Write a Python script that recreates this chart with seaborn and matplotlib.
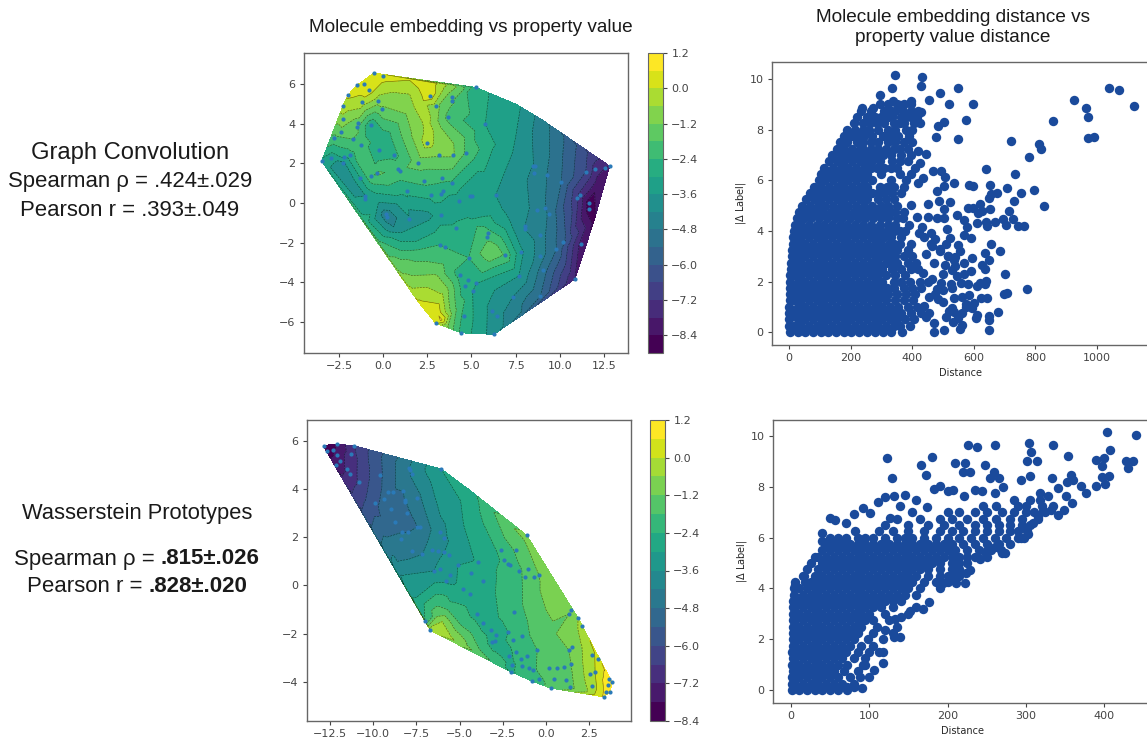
import numpy as np
import pandas as pd
import matplotlib
matplotlib.use('Agg')
import matplotlib.pyplot as plt
import seaborn as sns

# Contour panel, graph convolution: dots seen in the picture (x, y, colour read as value)
gc_dot_x = [-0.53, 0, -1.49, -1.06, -0.78, -2.0, -1.21, -0.28, -2.27, -0.04, -2.29, -1.4, -1.49, -0.68, -2.36, -1.72, -2.78, -1.27, -0.21, 0.62, -1.85, -2.19, -2.95, -3.48, -2.29, -0.32, -0.66, -1.3, 0.83, 0.93, 1.97, 3.18, 3.93, 4.69, 2.48, 3.69, 2.97, 2.65, 3.88, 3.88, 5.24, 5.78, 2.29, 3.31, 3.91, 1.36, 2.7, 3.25, 3.36, 4.27, 4.9, 5.01, 6.37, -1.0, -1.0, 0.17, 0.21, 1.47, 3.25, 4.14, 5.94, 5.88, 3.23, 3.48, 4.84, 6.9, 4.37, 4.78, 4.65, 5.27, 5.07, 4.56, 4.42, 2.97, 6.16, 6.46, 6.26, 7.33, 7.69, 7.83, 8.02, 8.02, 8.88, 8.87, 9.05, 8.9, 9.81, 10.19, 10.85, 11.19, 10.95, 11.17, 11.64, 11.66, 10.09, 9.26, 8.51, 8.62, 8.53, 8.7, 9.17, 9.4, 11.47, 11.98, 12.55, 12.82]
gc_dot_y = [6.57, 6.4, 5.94, 5.99, 5.69, 5.44, 5.12, 5.15, 4.92, 4.76, 4.26, 4.06, 3.84, 3.94, 3.59, 3.23, 3.27, 2.93, 2.69, 2.44, 2.42, 2.32, 2.26, 2.12, 2.02, 1.5, 1.35, 1.28, 1.73, 1.63, 2.04, 2.44, 2.44, 2.51, 3.03, 4.33, 4.88, 5.4, 5.35, 5.15, 5.84, 3.97, 1.13, 1.28, 1.01, 0.61, 0.42, 0.47, 0.59, 0.1, 0.35, 0.35, 0.42, 0.37, 0.22, -0.54, -0.71, -0.79, -0.62, -1.26, -1.5, -1.7, -2.1, -2.24, -2.76, -2.64, -3.65, -3.89, -4.19, -4.06, -4.46, -5.69, -6.55, -6.06, -5.45, -5.69, -6.63, -4.75, -3.67, -2.49, -1.18, -1.31, -1.63, -2.69, -3.37, -4.71, -2.34, -1.97, -3.84, -2.07, 0.27, 0.4, 0.02, -0.29, 1.08, 1.4, 1.89, 1.89, 1.52, -0.35, -0.24, -0.54, 1.58, 1.72, 1.78, 1.87]
gc_dot_z = [0.4, 0.3, 0.3, 0.4, 0.3, 0.1, -0.2, -0.9, -0.2, -1.3, -0.8, -1.5, -1.7, -2.9, -1.4, -1.8, -2.0, -2.0, -3.0, -2.6, -2.6, -2.9, -3.4, -3.2, -3.8, -1.7, -1.9, -3.0, -2.1, -2.0, -1.5, -1.1, -1.1, -1.9, -0.3, -2.0, -0.9, 0.4, -1.6, -1.7, -2.8, -3.0, -2.2, -2.2, -2.5, -2.8, -2.8, -2.8, -2.8, -3.3, -3.6, -3.6, -3.6, -3.6, -3.6, -4.5, -4.6, -3.7, -3.3, -2.9, -2.2, -2.0, -2.4, -2.4, -2.4, -1.9, -2.7, -2.9, -2.9, -3.0, -3.0, -2.6, -2.6, 0.2, -3.8, -4.0, -3.9, -4.2, -3.6, -3.5, -4.2, -4.2, -4.5, -4.5, -5.1, -5.4, -5.4, -5.8, -7.8, -8.0, -7.0, -7.4, -8.7, -8.7, -5.4, -4.8, -4.2, -4.2, -4.3, -4.3, -4.8, -4.9, -6.6, -7.4, -7.8, -7.8]
# Extra surface readings between the dots
gc_sur_x = [12.2, 11.9, 1.5, 2.5, 4.5, 7.5, 9, 10.5, 11.5, 6.5, 7.5, 5.5, 7, 7, 6, 5, 5.9, 6.3, 5.5, 0, 1, 2, -1.6, -1, -0.2, 1, 1.5, 2, 3, 3.3, 3.4, 3, 3.5, 2, 4, 3.7, 2.5, 2, 2.5, 3, 1.5, 3.2, 4, 1.3, 1.5, 0.5, 3.5, 3.2, -2.5, -1.8, -0.3, 1, 0, 1.5, 2.5, 0.6, 1]
gc_sur_y = [0.9, -1.0, 6.2, 6.1, 5.8, 5.0, 4.2, 3.2, 2.6, 3, 2.5, 2, 0, -1, -1, -1, -2.4, -2.5, -1.3, -0.6, -1.3, -2, 0.3, -1, -2, -3, -4, -5, -5.5, -5.9, -4.5, -3.5, -3, -2.5, -5.5, -6.2, 4, 5, 3.5, 3.5, 3.5, 3.0, 3, 4.5, 5.5, 5.6, 5.8, 5.0, 1.5, 1.0, 0.1, 0.2, 3.2, -0.8, -0.65, -1.2, -1.5]
gc_sur_z = [-8.2, -8.5, 0.0, 0.6, -1.6, -3.4, -4.5, -5.6, -6.5, -3.1, -3.7, -2.8, -3.9, -3.4, -2.8, -2.9, -1.4, -1.3, -2.1, -4.4, -3.8, -2.9, -3.6, -2.7, -2.3, -1.6, -0.9, 0.1, 0.5, 0.7, -0.7, -1.3, -1.9, -2.2, -1.6, -1.3, -0.4, -0.3, -0.4, -0.7, -1.3, -0.9, -1.2, -1.2, -0.6, -0.6, -0.7, -1.2, -4.0, -4.0, -3.5, -3.2, -2.9, -4.0, -3.8, -4.2, -3.6]

# Contour panel, Wasserstein prototypes
wp_dot_x = [-12.87, -12.7, -12.35, -12.11, -12.07, -11.92, -12.15, -11.53, -11.32, -11.28, -11.09, -10.82, -9.6, -9.87, -9.39, -9.15, -8.84, -8.94, -8.75, -8.26, -8.13, -8.17, -8.03, -8.35, -8.37, -7.96, -7.73, -7.15, -7.44, -7.29, -7.48, -7.92, -7.89, -7.75, -6.07, -6.57, -6.24, -5.9, -5.63, -6.11, -5.88, -6.5, -6.15, -5.78, -5.55, -5.1, -4.78, -4.37, -4.31, -3.91, -3.62, -3.99, -3.62, -3.18, -2.87, -3.1, -2.94, -2.62, -2.42, -2.17, -2.08, -1.73, -1.11, -1.57, -1.03, -1.2, -0.67, -0.4, -1.86, -2.19, -1.9, -1.4, -1.73, -0.51, -1.11, -2.13, -1.46, -1.96, -1.38, -2.02, -0.98, -0.72, -0.82, -0.38, 0.16, 0.67, 1.07, 0.49, 1.15, 0.3, 1.4, 1.46, 1.32, 1.53, 2.54, 2.67, 2.85, 2.67, 3.0, 1.35, 1.48, 1.86, 2.09, 3.35, 3.47, 3.72, 3.58, 3.66, 3.83, -7.0, -6.69]
wp_dot_y = [5.8, 5.56, 5.61, 5.86, 5.39, 5.16, 4.99, 4.81, 4.62, 5.43, 5.79, 4.31, 4.6, 3.43, 3.57, 3.88, 3.88, 3.18, 2.63, 3.9, 3.54, 3.47, 3.0, 2.2, 1.91, 2.2, 1.44, 1.29, 2.44, 2.44, 3.61, 4.89, 4.78, 4.62, 4.83, 1.47, 1.41, 1.37, 1.25, 2.22, 1.95, 0.6, 0.7, 0.2, 0.43, 0.83, -0.15, -0.34, 0.53, 0.97, 0.2, -1.18, -1.55, -1.86, -2.04, -2.33, -2.29, 1.48, 1.04, 0.87, 0.83, 1.48, 2.08, 0.6, 0.7, 0.36, 0.34, 0.43, -1.09, -1.93, -2.27, -2.09, -2.77, -2.67, -2.91, -2.91, -3.05, -3.29, -3.34, -3.58, -3.42, -3.52, -3.96, -3.87, -3.41, -3.41, -3.38, -3.89, -3.92, -4.26, -4.22, -3.24, -2.67, -2.56, -3.68, -4.18, -3.58, -2.87, -3.07, -1.18, -1.02, -1.35, -1.69, -4.62, -4.41, -4.41, -4.12, -3.89, -4.01, -1.46, -1.86]
wp_dot_z = [-7.9, -8.0, -7.9, -7.8, -7.5, -7.4, -7.6, -7.1, -7.0, -6.9, -6.6, -6.5, -5.5, -5.5, -5.3, -5.1, -4.9, -5.2, -5.2, -4.8, -4.8, -4.8, -4.9, -4.8, -4.6, -4.8, -4.5, -4.2, -4.8, -4.7, -4.4, -4.2, -4.2, -4.1, -3.0, -3.9, -3.7, -3.6, -3.5, -3.8, -3.7, -3.6, -3.5, -3.1, -3.1, -3.0, -2.9, -2.8, -3.0, -2.9, -2.6, -2.7, -2.7, -2.7, -2.7, -2.7, -2.7, -2.3, -2.3, -2.2, -2.2, -1.7, -1.0, -1.9, -1.6, -1.7, -1.4, -1.2, -2.1, -2.4, -2.2, -2.0, -2.2, -1.8, -2.0, -2.6, -2.2, -2.5, -2.2, -2.5, -2.0, -1.9, -2.0, -1.9, -1.4, -1.4, -1.4, -1.5, -1.4, -1.7, -1.4, -1.2, -1.2, -1.1, -0.3, -0.4, 0.0, -0.1, 0.1, -1.2, -1.1, -0.6, -0.4, 0.7, 0.8, 0.9, 1.0, 1.0, 1.1, -2.4, -0.3]
wp_sur_x = [-5.5, -6.3, -6, -5, -5.5, -4.9, -4, -3, -7.5, -8.3, -8.6, -9.2, -10, -4.5, -3.5, -2.2, -1.2, 0, 1, 0, 1.5, 2.2, 2.3, -5.7, -4.5]
wp_sur_y = [-0.8, -1.2, -1.5, -1.5, -2.2, -2.3, -2.6, -3, -0.5, 0.3, 1, 2, 3, 4, 3.2, 2.5, 1.0, 0, -0.7, -2, -2, -2.5, -4.4, -1.0, -2.2]
wp_sur_z = [-2.3, -1.4, -0.6, -1.9, -0.5, -0.9, -1.7, -2.2, -3.0, -3.5, -4.2, -4.8, -5.5, -2.7, -2.2, -1.3, -1.6, -1.0, -0.9, -1.4, -0.9, -0.5, -0.7, -1.8, -1.5]

# Distance scatter, graph convolution: separate points
gc_far_x = [1121, 1070, 1038, 924, 965, 971, 971, 989, 856, 812, 818, 720, 778, 734, 640, 795, 753, 829, 731, 707, 653, 675, 715, 694, 727, 762, 742, 703, 668, 640, 642, 653, 648, 655, 621, 626, 615, 610, 580, 597, 583, 596, 590, 655, 684, 635, 594, 648, 626, 635, 567, 702, 772, 707, 699, 640, 637, 621, 612, 623, 642, 680, 610, 608, 648, 651, 651, 586, 580, 567, 536, 529, 561, 575, 561, 561, 556, 532, 502, 471, 545, 567, 577, 567, 550, 523, 512, 502, 480, 453, 415, 431, 462, 423, 453, 487, 523, 502, 397, 482, 502, 536, 507, 494, 469, 420, 434, 426, 444, 420, 548, 477, 485, 504, 574, 599, 521, 456, 489, 550, 429, 433, 336, 345, 428, 396, 296, 236, 274, 361, 339, 490, 515, 470, 540, 500, 450, 525, 480, 455, 500, 530, 445, 470, 510, 440, 455, 485, 500, 530, 545, 435, 465, 495, 510, 540, 555, 445, 460, 475, 520, 535, 550, 440, 465, 490, 515, 560, 590, 600, 575, 595, 535, 505, 475]
gc_far_y = [8.95, 9.58, 9.67, 9.16, 8.88, 8.52, 7.66, 7.73, 8.36, 7.43, 7.23, 7.57, 6.94, 6.27, 6.44, 5.63, 5.49, 5.0, 5.18, 5.7, 5.82, 5.51, 4.79, 4.46, 4.46, 4.2, 4.2, 4.23, 4.37, 4.37, 4.2, 4.86, 5.29, 5.46, 5.07, 4.79, 4.7, 4.33, 4.92, 4.92, 5.82, 5.79, 3.71, 3.48, 3.22, 3.11, 2.94, 2.85, 2.65, 2.48, 2.72, 2.28, 1.7, 1.56, 1.49, 2.03, 1.89, 1.95, 1.82, 1.35, 1.35, 0.79, 0.67, 0.54, 0.63, 0.47, 0.08, 1.46, 1.89, 2.3, 2.85, 2.45, 1.4, 1.13, 0.74, 0.28, 0.11, 0.41, 0.08, 0.01, 4.63, 4.43, 4.17, 3.84, 3.44, 3.71, 4.06, 4.5, 4.53, 4.54, 4.56, 4.17, 3.9, 3.93, 5.07, 5.2, 5.16, 4.86, 5.03, 5.59, 5.78, 5.88, 6.12, 6.37, 6.37, 5.91, 6.08, 6.68, 7.04, 7.16, 7.64, 7.73, 8.13, 8.29, 8.39, 9.01, 9.02, 9.18, 9.47, 9.64, 9.74, 10.07, 9.64, 10.17, 8.72, 9.14, 9.38, 8.85, 8.88, 8.98, 9.12, 3.3, 3.0, 2.75, 2.6, 2.3, 2.0, 1.9, 1.7, 1.4, 1.2, 0.95, 0.6, 0.35, 0.6, 1.05, 0.75, 1.3, 1.65, 1.75, 2.2, 2.35, 2.1, 1.95, 3.5, 2.95, 3.2, 3.1, 3.5, 1.5, 0.85, 0.8, 0.55, 3.75, 3.4, 3.2, 3.0, 1.95, 2.4, 1.15, 1.0, 0.95, 1.35, 2.65, 3.7]

# Dense part of the cloud, estimated by eye as rows: one y, then the x values along it
gc_row_y = [0.0, 0.25, 0.5, 0.75, 1.0, 1.25, 1.5, 1.75, 2.0, 2.25, 2.5, 2.75, 3.0, 3.25, 3.5, 3.75, 4.0, 4.25, 4.5, 4.75, 5.0, 5.25, 5.5, 5.75, 6.0, 6.25, 6.5, 6.75, 7.0, 7.25, 7.5, 7.75, 8.0, 8.25, 8.5, 8.75, 9.0]
gc_row_x = [
    [3, 28, 53, 78, 103, 128, 153, 178, 203, 228, 253, 278, 305, 330, 368],
    [1, 15, 40, 65, 90, 115, 140, 165, 190, 215, 240, 265, 290, 315, 340, 362, 392],
    [1, 28, 53, 78, 103, 128, 153, 178, 203, 228, 253, 278, 303, 328, 352, 378, 405],
    [1, 15, 40, 65, 90, 115, 140, 165, 190, 215, 240, 265, 290, 315, 340, 365, 395, 430],
    [1, 28, 53, 78, 103, 128, 153, 178, 203, 228, 253, 278, 303, 328, 355, 385, 415],
    [2, 15, 40, 65, 90, 115, 140, 165, 190, 215, 240, 265, 290, 315, 345, 372, 402],
    [2, 28, 53, 78, 103, 128, 153, 178, 203, 228, 253, 278, 303, 322, 350, 380, 410],
    [3, 15, 40, 65, 90, 115, 140, 165, 190, 215, 240, 265, 290, 318, 340, 372, 400, 430],
    [4, 28, 53, 78, 103, 128, 153, 178, 203, 228, 253, 278, 303, 340, 365, 392, 425],
    [5, 15, 40, 65, 90, 115, 140, 165, 190, 215, 240, 265, 290, 315, 345, 378],
    [6, 28, 53, 78, 103, 128, 153, 178, 203, 228, 253, 278, 303, 335, 365, 395, 420],
    [7, 18, 40, 65, 90, 115, 140, 165, 190, 215, 240, 265, 290, 315, 328, 350, 385, 412],
    [9, 28, 53, 78, 103, 128, 153, 178, 203, 228, 253, 278, 300, 318, 330, 345, 372, 400],
    [10, 18, 40, 65, 90, 115, 140, 165, 190, 215, 240, 265, 290, 315, 330, 352, 385],
    [12, 28, 53, 78, 103, 128, 153, 178, 203, 228, 253, 278, 300, 325, 340, 360, 395],
    [14, 22, 40, 65, 90, 115, 140, 165, 190, 215, 240, 265, 290, 310, 330, 365],
    [17, 28, 53, 78, 103, 128, 153, 178, 203, 228, 253, 278, 300, 320, 340, 360, 378],
    [21, 40, 65, 90, 115, 140, 165, 190, 215, 240, 265, 295, 320, 345, 390],
    [27, 48, 73, 98, 123, 148, 173, 198, 223, 248, 273, 298, 320, 350, 370],
    [33, 60, 85, 110, 135, 160, 185, 210, 235, 260, 285, 310, 330, 345, 375],
    [41, 68, 93, 118, 143, 168, 193, 218, 243, 268, 300, 322, 350],
    [55, 80, 105, 130, 155, 180, 205, 230, 255, 290, 315, 340],
    [68, 93, 118, 143, 168, 193, 218, 243, 268, 290, 310, 335, 365],
    [82, 105, 130, 155, 180, 205, 230, 255, 295, 318, 340, 375],
    [96, 118, 143, 168, 193, 218, 243, 268, 330, 380],
    [105, 130, 155, 180, 205, 230, 255, 300, 360, 395],
    [115, 143, 168, 193, 218, 243, 265, 285, 310, 330, 350, 410],
    [130, 155, 180, 205, 230, 255, 270, 295, 335, 360, 385],
    [140, 168, 193, 218, 240, 258, 280, 305, 330, 365, 395],
    [155, 180, 205, 230, 240, 265, 290, 315, 340, 360, 385],
    [165, 190, 220, 240, 265, 290, 320, 345, 375, 398],
    [180, 205, 225, 245, 270, 305, 330, 355, 390],
    [190, 215, 240, 260, 290, 320, 345, 380, 400],
    [210, 240, 262, 285, 310, 340, 360, 375, 405, 425],
    [222, 255, 280, 300, 320, 335, 365, 380, 395, 415],
    [235, 265, 310, 330, 345, 370, 395, 420],
    [295, 320, 350, 375, 395],
]

# Distance scatter, Wasserstein prototypes: separate points
wp_far_x = [440, 404, 408, 389, 400, 397, 428, 437, 431, 406, 397, 401, 389, 377, 370, 359, 351, 358, 360, 352, 354, 334, 314, 306, 304, 302, 261, 238, 226, 222, 209, 248, 180, 123, 166, 172, 129, 220, 229, 254, 259, 265, 271, 190, 182, 201, 207, 221, 235, 244, 260, 294, 305, 333, 341, 318, 328, 132, 120, 146, 159, 139, 111, 174, 92, 80, 50, 56, 39, 39, 70, 34, 15, 5, 126, 101, 348, 332, 341, 176, 160, 169, 152, 141, 133, 139, 131, 120, 117, 117, 106, 99, 94, 91, 81, 71, 194, 211, 222, 229, 223, 241, 248, 269, 273, 260, 303, 294, 309, 316, 322, 205, 211]
wp_far_y = [10.05, 10.17, 9.46, 9.07, 9.13, 8.83, 9.0, 9.03, 8.74, 8.41, 8.38, 8.12, 8.04, 7.75, 8.04, 7.38, 7.64, 8.47, 8.25, 8.17, 9.2, 9.63, 9.0, 9.37, 9.72, 9.0, 9.63, 9.57, 9.66, 8.93, 8.93, 8.84, 9.17, 9.13, 8.87, 8.47, 8.36, 8.6, 8.57, 8.34, 8.6, 8.34, 7.99, 8.05, 7.92, 7.82, 7.88, 7.64, 7.88, 7.82, 7.75, 8.28, 8.41, 8.34, 7.95, 7.75, 7.64, 7.64, 7.58, 7.66, 7.49, 7.26, 7.42, 7.22, 7.18, 6.93, 6.76, 6.7, 6.17, 5.87, 6.57, 5.25, 4.5, 4.13, 6.79, 6.96, 7.09, 7.09, 6.89, 3.47, 3.28, 3.2, 3.1, 2.88, 2.8, 2.09, 2.09, 2.35, 1.5, 1.07, 0.8, 0.51, 0.97, 0.09, 0.12, 0.12, 4.2, 4.2, 4.22, 4.72, 4.59, 5.14, 5.45, 5.41, 5.41, 5.62, 6.14, 6.0, 6.57, 6.83, 7.03, 4.46, 4.59]

wp_row_y = [0.0, 0.25, 0.5, 0.75, 1.0, 1.25, 1.5, 1.75, 2.0, 2.25, 2.5, 2.75, 3.0, 3.25, 3.5, 3.75, 4.0, 4.25, 4.5, 4.75, 5.0, 5.25, 5.5, 5.75, 6.0, 6.25, 6.5, 6.75, 7.0, 7.25, 7.5]
wp_row_x = [
    [1, 10, 20, 30, 40, 50, 60, 72],
    [1, 5, 15, 25, 35, 45, 55, 65, 80],
    [1, 10, 20, 30, 40, 50, 60, 75, 88],
    [2, 5, 15, 25, 35, 45, 55, 68, 85],
    [1, 10, 20, 30, 40, 50, 60, 72, 92],
    [2, 5, 15, 25, 35, 45, 55, 65, 80, 95],
    [1, 10, 20, 30, 40, 50, 60, 70, 85, 100, 112],
    [2, 5, 15, 25, 35, 45, 55, 65, 75, 90, 105],
    [2, 10, 20, 30, 40, 50, 60, 70, 80, 98, 118],
    [2, 5, 15, 25, 35, 45, 55, 65, 75, 85, 105, 130],
    [3, 10, 20, 30, 40, 50, 60, 70, 80, 90, 110, 135],
    [3, 5, 15, 25, 35, 45, 55, 65, 75, 85, 95, 105, 125],
    [3, 10, 20, 30, 40, 50, 60, 70, 80, 90, 100, 120, 150],
    [3, 5, 15, 25, 35, 45, 55, 65, 75, 85, 95, 105, 115, 130],
    [3, 10, 20, 30, 40, 50, 60, 70, 80, 90, 100, 110, 120, 130, 140],
    [4, 15, 25, 35, 45, 55, 65, 75, 85, 95, 105, 115, 125, 135, 145, 160],
    [4, 10, 20, 30, 40, 50, 60, 70, 80, 90, 100, 110, 120, 130, 140, 150, 165, 190],
    [5, 18, 25, 35, 45, 55, 65, 75, 85, 95, 105, 115, 125, 135, 145, 155, 170, 185, 200],
    [16, 30, 40, 50, 60, 70, 80, 90, 100, 110, 120, 130, 140, 150, 160, 175, 190, 200, 215],
    [20, 35, 45, 55, 65, 75, 85, 95, 105, 115, 125, 135, 145, 155, 165, 175, 190, 205, 215],
    [25, 40, 50, 60, 70, 80, 90, 100, 110, 120, 130, 140, 150, 160, 170, 180, 190, 205, 215, 225],
    [30, 45, 55, 65, 75, 85, 95, 105, 115, 125, 135, 145, 155, 165, 175, 185, 195, 205, 215, 225, 235, 250],
    [40, 50, 60, 70, 80, 90, 100, 110, 120, 130, 140, 150, 160, 170, 180, 190, 200, 210, 225, 240, 255, 268],
    [45, 55, 65, 75, 85, 95, 105, 115, 125, 135, 145, 155, 165, 175, 185, 195, 205, 220, 235, 250, 265, 280],
    [50, 60, 70, 85, 95, 105, 120, 135, 145, 155, 170, 185, 200, 215, 230, 245, 260, 275, 290, 298],
    [82, 112, 130, 150, 170, 190, 205, 220, 235, 250, 265, 280, 290, 302],
    [120, 150, 175, 195, 215, 235, 250, 265, 280, 295, 305],
    [135, 165, 190, 205, 225, 245, 262, 280, 295, 315],
    [155, 200, 215, 235, 250, 270, 285, 300, 310, 325],
    [245, 262, 290, 300, 320, 335],
    [285, 305, 318],
]

# Tick values
gc_xticks = [-2.5, 0.0, 2.5, 5.0, 7.5, 10.0, 12.5]
gc_yticks = [-6, -4, -2, 0, 2, 4, 6]
wp_xticks = [-12.5, -10.0, -7.5, -5.0, -2.5, 0.0, 2.5]
wp_yticks = [-4, -2, 0, 2, 4, 6]
gc_levels = [-9.0, -8.4, -7.8, -7.2, -6.6, -6.0, -5.4, -4.8, -4.2, -3.6, -3.0, -2.4, -1.8, -1.2, -0.6, 0.0, 0.6, 1.2]
wp_levels = [-8.4, -7.8, -7.2, -6.6, -6.0, -5.4, -4.8, -4.2, -3.6, -3.0, -2.4, -1.8, -1.2, -0.6, 0.0, 0.6, 1.2]
cbar_ticks = [-8.4, -7.2, -6.0, -4.8, -3.6, -2.4, -1.2, 0.0, 1.2]

W, H = 1147, 738
BLUE = '#1a4a9b'
DOT = '#2a7ab8'

sns.set_style('ticks')
plt.rcParams['font.family'] = ['DejaVu Sans']
plt.rcParams['axes.edgecolor'] = '#666666'
plt.rcParams['xtick.color'] = '#444444'
plt.rcParams['ytick.color'] = '#444444'
plt.rcParams['text.color'] = '#222222'

fig = plt.figure(figsize=(W / 100, H / 100), dpi=100)


def px_axes(left, top, right, bottom):
    """Axes placed by pixel edges of the picture"""
    return fig.add_axes([left / W, 1 - bottom / H, (right - left) / W, (bottom - top) / H])


def label(x, y, text, size, weight='normal', ha='center'):
    fig.text(x / W, 1 - y / H, text, fontsize=size, fontweight=weight, ha=ha, va='center',
             family='Liberation Sans', color='#1a1a1a')


def contour_panel(box, cbox, x, y, z, dot_x, dot_y, levels, xticks, yticks, xlim, ylim):
    ax = px_axes(*box)
    # top and bottom bands take the very ends of the colour map
    cs = ax.tricontourf(x, y, z, levels=levels, cmap='viridis', vmin=levels[0] + 0.3, vmax=levels[-1] - 0.3)
    ax.tricontour(x, y, z, levels=levels, colors='k', linewidths=0.4, alpha=0.6)
    sns.scatterplot(x=dot_x, y=dot_y, ax=ax, color=DOT, s=9, linewidth=0, zorder=5)
    ax.set_xticks(xticks)
    ax.set_yticks(yticks)
    ax.set_xlim(xlim)
    ax.set_ylim(ylim)
    ax.tick_params(labelsize=8, length=3, width=0.8, pad=3)
    for spine in ax.spines.values():
        spine.set_visible(True)
        spine.set_linewidth(1)
    cax = px_axes(*cbox)
    cbar = fig.colorbar(cs, cax=cax)
    cbar.set_ticks(cbar_ticks)
    cax.tick_params(labelsize=8, length=3, width=0.8, pad=3)
    cbar.outline.set_edgecolor('#666666')
    return ax


def distance_panel(box, far_x, far_y, row_x, row_y, xticks, xlim, ylim, label_px):
    xs = list(far_x)
    ys = list(far_y)
    for yv, row in zip(row_y, row_x):
        xs += row
        ys += [yv] * len(row)
    df = pd.DataFrame({'Distance': xs, 'Delta': ys})
    ax = px_axes(*box)
    sns.scatterplot(data=df, x='Distance', y='Delta', ax=ax, color=BLUE, s=46, linewidth=0)
    ax.set_xticks(xticks)
    ax.set_yticks([0, 2, 4, 6, 8, 10])
    ax.set_xlim(xlim)
    ax.set_ylim(ylim)
    ax.set_xlabel('Distance', fontsize=7, labelpad=3)
    ax.xaxis.label.set_x((label_px - box[0]) / (box[2] - box[0]))
    ax.set_ylabel('|$\\Delta$ Label|', fontsize=7, labelpad=1)
    ax.tick_params(labelsize=8, length=3, width=0.8, pad=3)
    for spine in ax.spines.values():
        spine.set_visible(True)
        spine.set_linewidth(1)
    return ax


contour_panel((304, 53, 628, 353), (648, 53, 663, 353),
              gc_dot_x + gc_sur_x, gc_dot_y + gc_sur_y, gc_dot_z + gc_sur_z,
              gc_dot_x, gc_dot_y, gc_levels, gc_xticks, gc_yticks, (-4.48, 13.86), (-7.57, 7.58))
contour_panel((307, 420, 631, 721), (650, 420, 665, 721),
              wp_dot_x + wp_sur_x, wp_dot_y + wp_sur_y, wp_dot_z + wp_sur_z,
              wp_dot_x, wp_dot_y, wp_levels, wp_xticks, wp_yticks, (-13.83, 4.93), (-5.62, 6.86))

distance_panel((772, 62, 1170, 345), gc_far_x, gc_far_y, gc_row_x, gc_row_y,
               [0, 200, 400, 600, 800, 1000], (-55, 1237), (-0.51, 10.68), 961)
distance_panel((773, 420, 1170, 703), wp_far_x, wp_far_y, wp_row_x, wp_row_y,
               [0, 100, 200, 300, 400], (-23, 484), (-0.51, 10.63), 963)

label(471, 27, 'Molecule embedding vs property value', 13.7)
label(953, 17, 'Molecule embedding distance vs', 13.7)
label(953, 38, 'property value distance', 13.7)

label(130, 153, 'Graph Convolution', 17.1)
label(130, 182, 'Spearman ρ = .424±.029', 15.9)
label(130, 210, 'Pearson r = .393±.049', 15.9)

label(137, 514, 'Wasserstein Prototypes', 15.75)
label(161, 559, 'Spearman ρ = ', 16, ha='right')
label(161, 559, '.815±.026', 16, weight='bold', ha='left')
label(149, 587, 'Pearson r = ', 16, ha='right')
label(149, 587, '.828±.020', 16, weight='bold', ha='left')

fig.savefig('out.png', dpi=100)
plt.close(fig)
